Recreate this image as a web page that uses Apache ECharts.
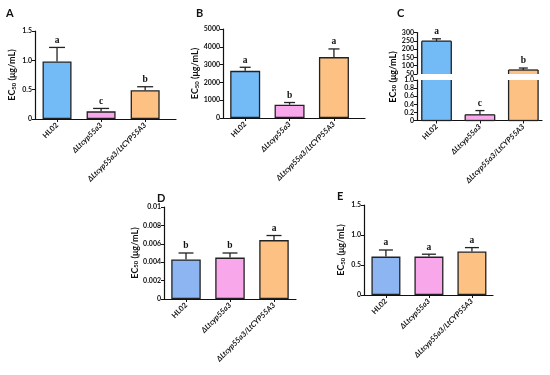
<!DOCTYPE html>
<html><head><meta charset="utf-8">
<script src="https://cdn.jsdelivr.net/npm/echarts@6/dist/echarts.min.js"></script>
<style>html,body{margin:0;padding:0;background:#fff}#c{width:550px;height:375px}</style>
</head><body><div id="c"></div>
<script>
const categories = ['HL02', 'ΔLtcyp55a3', 'ΔLtcyp55a3/LtCYP55A3'];
const panelLetters = ['A', 'B', 'C', 'D', 'E'];

const aMean = [0.98, 0.13, 0.49];
const aUpper = [1.22, 0.18, 0.55];
const aLetters = ['a', 'c', 'b'];
const aTicks = [0, 0.5, 1.0, 1.5];

const bMean = [2650, 750, 3420];
const bUpper = [2850, 870, 3880];
const bLetters = ['a', 'b', 'a'];
const bTicks = [0, 1000, 2000, 3000, 4000, 5000];

const cMean = [248, 0.14, 74];
const cUpper = [262, 0.245, 86];
const cLetters = ['a', 'c', 'b'];
const cTicksHigh = [50, 100, 150, 200, 250, 300];
const cTicksLow = [0, 0.2, 0.4, 0.6, 0.8, 1.0];

const dMean = [0.0043, 0.0045, 0.0064];
const dUpper = [0.0050, 0.0050, 0.0069];
const dLetters = ['b', 'b', 'a'];
const dTicks = [0, 0.002, 0.004, 0.006, 0.008, 0.01];

const eMean = [0.64, 0.64, 0.725];
const eUpper = [0.75, 0.68, 0.79];
const eLetters = ['a', 'a', 'a'];
const eTicks = [0, 0.5, 1.0, 1.5];

const FONT = 'Lato, "Noto Sans", sans-serif';
const colorsABC = ['#72BBF7', '#F7A7EA', '#FDC283'];
const colorsDE = ['#8CB5F1', '#F7A7EA', '#FDC283'];

const grids = [], xAxes = [], yAxes = [], series = [];

function fmtOne(v) { return v === 0 ? '0' : v.toFixed(1); }
function fmtRaw(v) { return v === 0 ? '0' : String(v); }

const yNameText = '{a|EC}{s|50}{a| (μg/mL)}';
const yNameRich = {
  a: { fontSize: 9, fontWeight: 'bold', fontFamily: FONT, color: '#111', lineHeight: 11, verticalAlign: 'bottom' },
  s: { fontSize: 6, fontWeight: 'bold', fontFamily: FONT, color: '#111', lineHeight: 8, verticalAlign: 'bottom' }
};

function addGrid(rect, xr, showX, ticks, fmt, nameGap) {
  const gi = grids.length;
  grids.push(Object.assign({ containLabel: false }, rect));
  xAxes.push({
    gridIndex: gi, type: 'value', min: xr[0], max: xr[1], show: showX,
    splitLine: { show: false },
    axisLine: { show: showX, onZero: false, lineStyle: { color: '#111', width: 1.2 } },
    axisTick: { show: showX, customValues: [0, 1, 2], length: 3, lineStyle: { color: '#111', width: 1 } },
    axisLabel: {
      show: showX, customValues: [0, 1, 2], rotate: 45, margin: 5,
      formatter: v => (v === 0 ? '{n|' : '{i|') + categories[v] + '}',
      rich: {
        n: { fontSize: 7.5, fontWeight: 'bold', fontFamily: FONT, color: '#111' },
        i: { fontSize: 7.5, fontWeight: 'bold', fontStyle: 'italic', fontFamily: FONT, color: '#111' }
      }
    }
  });
  const y = {
    gridIndex: gi, type: 'value', min: ticks[0], max: ticks[ticks.length - 1],
    splitLine: { show: false },
    axisLine: { show: true, onZero: false, lineStyle: { color: '#111', width: 1.2 } },
    axisTick: { show: true, customValues: ticks, length: 3, lineStyle: { color: '#111', width: 1 } },
    axisLabel: { customValues: ticks, formatter: fmt, fontSize: 7, fontWeight: 'bold', fontFamily: FONT, color: '#111', margin: 3 }
  };
  if (nameGap != null) {
    Object.assign(y, { name: yNameText, nameLocation: 'middle', nameRotate: 90, nameGap: nameGap, nameTextStyle: { rich: yNameRich } });
  }
  yAxes.push(y);
  return gi;
}

function addBars(gi, means, colors, barW) {
  series.push({
    type: 'bar', xAxisIndex: gi, yAxisIndex: gi, barWidth: barW,
    data: means.map((m, i) => ({ value: [i, m], itemStyle: { color: colors[i] } })),
    itemStyle: { borderColor: '#222', borderWidth: 1.3 },
    silent: true, animation: false
  });
}

// bars that are cut by the axis break: drawn with the grid's own scale, no border on the cut edge
function addBrokenBars(gi, means, colors, barW) {
  series.push({
    type: 'custom', xAxisIndex: gi, yAxisIndex: gi, z: 2, animation: false, silent: true,
    data: means.map((m, i) => [i, m]),
    renderItem: function (params, api) {
      const cs = params.coordSys;
      const i = api.value(0);
      const pTop = api.coord([i, api.value(1)]);
      const pBase = api.coord([i, 0]);
      const x0 = pTop[0] - barW / 2, x1 = pTop[0] + barW / 2;
      const yTop = Math.max(pTop[1], cs.y), yBot = Math.min(pBase[1], cs.y + cs.height);
      if (yBot <= yTop) return null;
      const st = { stroke: '#222', lineWidth: 1.3 };
      const ch = [
        { type: 'rect', shape: { x: x0, y: yTop, width: barW, height: yBot - yTop }, style: { fill: colors[i] } },
        { type: 'line', shape: { x1: x0, y1: yTop, x2: x0, y2: yBot }, style: st },
        { type: 'line', shape: { x1: x1, y1: yTop, x2: x1, y2: yBot }, style: st }
      ];
      if (pTop[1] >= cs.y) ch.push({ type: 'line', shape: { x1: x0, y1: yTop, x2: x1, y2: yTop }, style: st });
      if (pBase[1] <= cs.y + cs.height) ch.push({ type: 'line', shape: { x1: x0, y1: yBot, x2: x1, y2: yBot }, style: st });
      return { type: 'group', children: ch };
    }
  });
}

function addErr(gi, means, uppers, letters, capW, idxs) {
  series.push({
    type: 'custom', xAxisIndex: gi, yAxisIndex: gi, z: 5, animation: false, silent: true,
    data: idxs.map(i => [i, means[i], uppers[i]]),
    renderItem: function (params, api) {
      const i = api.value(0);
      const p0 = api.coord([i, api.value(1)]);
      const p1 = api.coord([i, api.value(2)]);
      const st = { stroke: '#222', lineWidth: 1.3 };
      return { type: 'group', children: [
        { type: 'line', shape: { x1: p0[0], y1: p0[1], x2: p1[0], y2: p1[1] }, style: st },
        { type: 'line', shape: { x1: p1[0] - capW / 2, y1: p1[1], x2: p1[0] + capW / 2, y2: p1[1] }, style: st },
        { type: 'text', x: p1[0], y: p1[1] - 2, style: { text: letters[i], fill: '#111', font: 'bold 9.5px "Liberation Serif", serif', textAlign: 'center', textVerticalAlign: 'bottom' } }
      ] };
    }
  });
}

// Panel A
let g = addGrid({ left: 35, top: 31, width: 141, height: 88 }, [-0.5, 2.7], true, aTicks, fmtOne, 18);
addBars(g, aMean, colorsABC, 29);
addErr(g, aMean, aUpper, aLetters, 16, [0, 1, 2]);

// Panel B
g = addGrid({ left: 223, top: 29, width: 142, height: 89 }, [-0.5, 2.7], true, bTicks, fmtRaw, 22);
addBars(g, bMean, colorsABC, 30);
addErr(g, bMean, bUpper, bLetters, 11, [0, 1, 2]);

// Panel C (broken axis)
const cBreakLow = cTicksLow[cTicksLow.length - 1];
const cIdxHigh = [0, 1, 2].filter(i => cMean[i] > cBreakLow);
const cIdxLow = [0, 1, 2].filter(i => cMean[i] <= cBreakLow);
g = addGrid({ left: 417, top: 32.5, width: 125, height: 41.5 }, [-0.45, 2.43], false, cTicksHigh, fmtRaw, null);
addBrokenBars(g, cMean, colorsABC, 29.5);
addErr(g, cMean, cUpper, cLetters, 9, cIdxHigh);
g = addGrid({ left: 417, top: 80, width: 125, height: 40.5 }, [-0.45, 2.43], true, cTicksLow, fmtOne, null);
addBrokenBars(g, cMean, colorsABC, 29.5);
addErr(g, cMean, cUpper, cLetters, 9, cIdxLow);

// Panel D
g = addGrid({ left: 164, top: 207, width: 132, height: 92 }, [-0.5, 2.5], true, dTicks, fmtRaw, 22);
addBars(g, dMean, colorsDE, 29.5);
addErr(g, dMean, dUpper, dLetters, 15, [0, 1, 2]);

// Panel E
g = addGrid({ left: 364, top: 205, width: 129, height: 90 }, [-0.51, 2.49], true, eTicks, fmtOne, 18);
addBars(g, eMean, colorsDE, 29);
addErr(g, eMean, eUpper, eLetters, 14, [0, 1, 2]);

const titlePos = [[1, 3], [191, 3], [392, 3], [152, 188], [332, 186]];
const titles = panelLetters.map((t, i) => ({
  text: t, left: titlePos[i][0], top: titlePos[i][1],
  textStyle: { fontSize: 11, fontWeight: 'bold', fontFamily: FONT, color: '#111' }
}));

const chart = echarts.init(document.getElementById('c'), null, { renderer: 'canvas' });
chart.setOption({
  animation: false,
  backgroundColor: '#fff',
  title: titles,
  graphic: [{
    type: 'text', x: 392, y: 77, rotation: Math.PI / 2,
    style: { text: yNameText, rich: yNameRich, textAlign: 'center', textVerticalAlign: 'middle' }
  }],
  grid: grids, xAxis: xAxes, yAxis: yAxes, series: series
});
</script></body></html>
